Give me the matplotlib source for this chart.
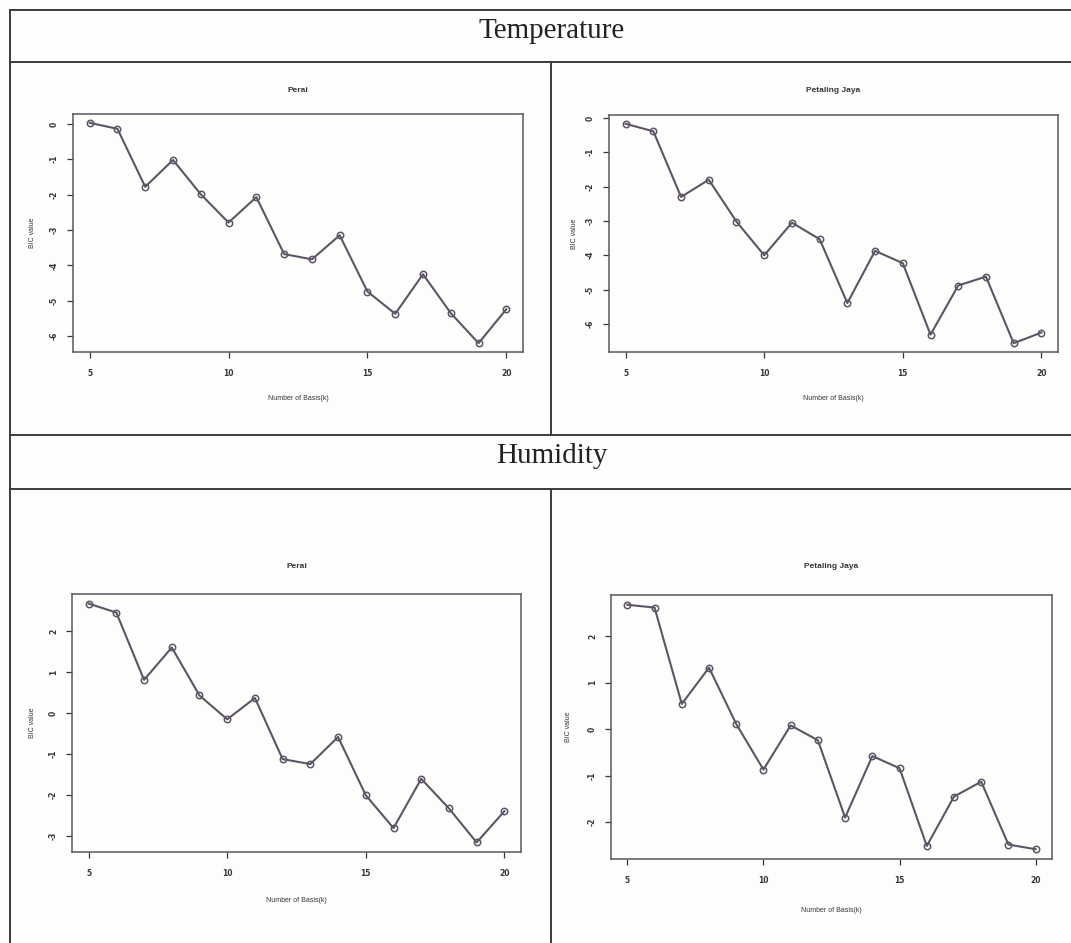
import matplotlib
matplotlib.use("Agg")
import matplotlib.pyplot as plt
from matplotlib.lines import Line2D

# ---- data ----
k = list(range(5, 21))
temp_perai = [0.03, -0.14, -1.78, -1.02, -1.99, -2.79, -2.07, -3.68,
              -3.83, -3.15, -4.74, -5.37, -4.25, -5.35, -6.20, -5.24]
temp_pj = [-0.17, -0.39, -2.30, -1.80, -3.02, -4.00, -3.05, -3.53,
           -5.39, -3.87, -4.23, -6.31, -4.88, -4.62, -6.56, -6.25]
hum_perai = [2.67, 2.45, 0.81, 1.60, 0.43, -0.15, 0.37, -1.12,
             -1.24, -0.58, -2.00, -2.80, -1.60, -2.32, -3.15, -2.39]
hum_pj = [2.67, 2.61, 0.54, 1.32, 0.11, -0.87, 0.08, -0.24,
          -1.90, -0.58, -0.84, -2.51, -1.45, -1.13, -2.48, -2.58]

x_ticks = [5, 10, 15, 20]
temp_yticks = [0, -1, -2, -3, -4, -5, -6]
hum_yticks = [2, 1, 0, -1, -2, -3]
hum_pj_yticks = [2, 1, 0, -1, -2]

section_titles = ["Temperature", "Humidity"]
station_names = ["Perai", "Petaling Jaya"]
xlabel = "Number of Basis(k)"
ylabel = "BIC value"

W, H = 1071, 943
fig = plt.figure(figsize=(W / 100, H / 100), dpi=100)
fig.patch.set_facecolor("#fdfdfb")

LINE_C = "#5d5566"
TXT_C = "#3a3438"


def px_axes(x0, y0, x1, y1):
    return fig.add_axes([x0 / W, 1 - y1 / H, (x1 - x0) / W, (y1 - y0) / H])


def rplot(box, y, yticks, title, ylab_x, title_y, xlab_y):
    x0, y0, x1, y1 = box
    ax = px_axes(*box)
    ax.set_facecolor("#fdfdfb")
    ax.plot(k, y, color=LINE_C, lw=1.5, marker="o", ms=4.6,
            mfc="none", mec=LINE_C, mew=1.1)
    lo, hi = min(y), max(y)
    pad = (hi - lo) * 0.04
    ax.set_ylim(lo - pad, hi + pad)
    ax.set_xlim(4.4, 20.6)
    ax.set_xticks(x_ticks)
    ax.set_yticks(yticks)
    ax.set_yticklabels([str(t) if t >= 0 else "-" + str(-t) for t in yticks],
                       rotation=90, va="center")
    ax.tick_params(direction="out", length=4, width=0.9, colors=TXT_C,
                   labelsize=5.5)
    ax.tick_params(axis="y", pad=6)
    ax.tick_params(axis="x", pad=8)
    for lab in ax.get_xticklabels() + ax.get_yticklabels():
        lab.set_fontweight("bold")
    for s in ax.spines.values():
        s.set_color(LINE_C)
        s.set_linewidth(1.1)
    fig.text(((x0 + x1) / 2) / W, 1 - title_y / H, title, ha="center",
             va="center", fontsize=6, fontweight="bold", color=TXT_C,
             family="Liberation Sans")
    fig.text(((x0 + x1) / 2) / W, 1 - xlab_y / H, xlabel, ha="center",
             va="center", fontsize=5, color=TXT_C, family="Liberation Sans")
    fig.text(ylab_x / W, 1 - ((y0 + y1) / 2) / H, ylabel, ha="center",
             va="center", fontsize=5, color=TXT_C, rotation=90,
             family="Liberation Sans")
    return ax


rplot((73, 114, 523, 352), temp_perai, temp_yticks, station_names[0], 33, 90, 398)
rplot((609, 115, 1058, 352), temp_pj, temp_yticks, station_names[1], 575, 90, 398)
rplot((72, 594, 521, 852), hum_perai, hum_yticks, station_names[0], 33, 566, 900)
rplot((611, 595, 1052, 859), hum_pj, hum_pj_yticks, station_names[1], 568, 566, 910)

# ---- table lines ----
def hline(y, x0=10, x1=1071):
    fig.add_artist(Line2D([x0 / W, x1 / W], [1 - y / H, 1 - y / H],
                          color="#3d3a3c", lw=1.4))


def vline(x, y0, y1):
    fig.add_artist(Line2D([x / W, x / W], [1 - y0 / H, 1 - y1 / H],
                          color="#3d3a3c", lw=1.4))

hline(10)
hline(62)
hline(435)
hline(489)
vline(10, 10, 943)
vline(551, 62, 435)
vline(551, 489, 943)

fig.text(552 / W, 1 - 31 / H, section_titles[0], ha="center", va="center",
         fontsize=21, family="Liberation Serif", color="#222")
fig.text(552 / W, 1 - 456 / H, section_titles[1], ha="center", va="center",
         fontsize=21, family="Liberation Serif", color="#222")

fig.savefig("out.png", dpi=100, facecolor=fig.get_facecolor())
